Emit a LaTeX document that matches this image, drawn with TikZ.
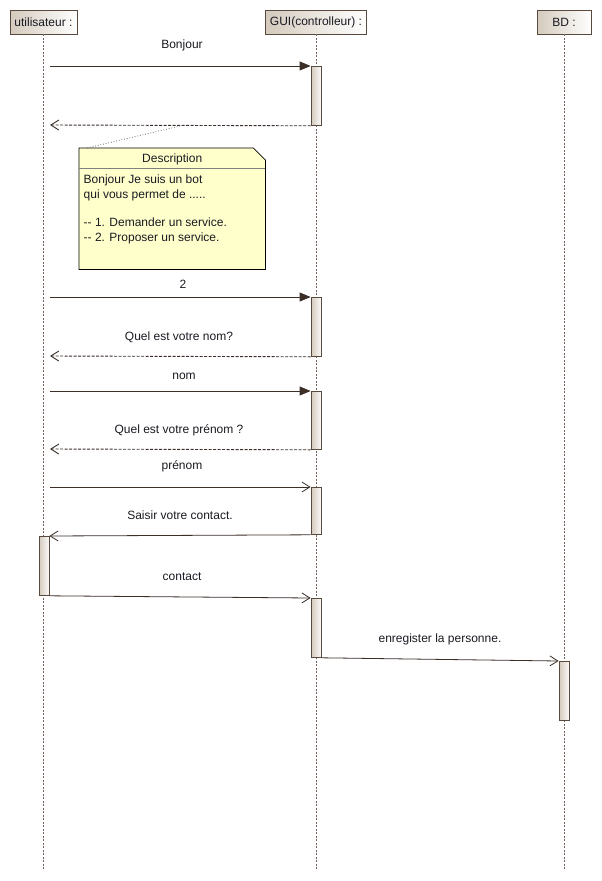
\documentclass[tikz,border=0pt]{standalone}
\usepackage{fontspec}
\setmainfont{Liberation Sans}
\usetikzlibrary{arrows.meta,calc}
\definecolor{brd}{HTML}{5A4A3E}
\definecolor{hdrL}{HTML}{D4CABD}
\definecolor{notefill}{HTML}{FFFFCC}
\definecolor{arr}{HTML}{3B2F28}
\definecolor{txt}{HTML}{1A1A22}
\begin{document}
\begin{tikzpicture}[x=1pt,y=-1pt,
  hdr/.style={draw=brd, line width=0.8pt, left color=hdrL, right color=white, minimum height=24pt, inner sep=0pt, font=\fontsize{12}{14}\selectfont, text=txt},
  act/.style={draw=brd, line width=0.8pt, left color=hdrL, right color=white!90!hdrL, minimum width=10pt, inner sep=0pt, anchor=north},
  life/.style={draw=brd!85, line width=0.6pt, dash pattern=on 2pt off 1.5pt},
  sync/.style={draw=arr, line width=0.8pt, -{Triangle[length=11pt,width=9pt]}},
  async/.style={draw=arr, line width=0.8pt, -{Straight Barb[length=8pt,width=10pt,line width=0.8pt]}},
  ret/.style={draw=arr, line width=0.9pt, dash pattern=on 3pt off 1.5pt, -{Straight Barb[length=8pt,width=10pt,line width=0.9pt]}},
  lbl/.style={font=\fontsize{12}{14}\selectfont, text=txt, inner sep=0pt},
  notebox/.style={minimum width=186pt, minimum height=121pt, inner sep=0pt, anchor=north west},
]
\useasboundingbox[fill=white] (0,0) rectangle (602,881);

% headers
\node[hdr, minimum width=67pt] (U) at (43.5,22) {utilisateur :};
\node[hdr, minimum width=101pt] (G) at (316,22) {GUI(controlleur) :};
\node[hdr, minimum width=54pt] (B) at (564,22) {BD :};
\coordinate (bottom) at (0,870);

% lifelines
\draw[life] (U.south) -- (U.south |- bottom);
\draw[life] (G.south) -- (G.south |- bottom);
\draw[life] (B.south) -- (B.south |- bottom);

% activations
\node[act, minimum height=59pt] (a1) at (316,66) {};
\node[act, minimum height=59pt] (a2) at (316,297) {};
\node[act, minimum height=58pt] (a3) at (316,391) {};
\node[act, minimum height=47pt] (a4) at (316,487) {};
\node[act, minimum height=59pt] (aU) at (44,536) {};
\node[act, minimum height=59pt] (a5) at (316,598) {};
\node[act, minimum height=59pt] (aB) at (564,661) {};

% message 1
\coordinate (u1) at (50,66);
\coordinate (u2) at (50,125);
\draw[sync] (u1) -- (a1.north west);
\node[lbl] (l1) at (182,45) {Bonjour};
\draw[ret] (a1.south west) -- (u2);

% note
\node[notebox] (note) at (79,148) {};
\draw[black, fill=notefill, line width=0.8pt] (note.north west) -- ($(note.north east)+(-12,0)$) -- ($(note.north east)+(0,12)$) -- (note.south east) -- (note.south west) -- cycle;
\draw[gray, line width=0.7pt] ($(note.north west)+(0,20)$) -- ($(note.north east)+(0,20)$);
\node[lbl] (ntitle) at ($(note.north)+(0,11)$) {Description};
\node[lbl, anchor=north west, align=left, font=\fontsize{12}{14.3}\selectfont] (nbody) at (83.5,175) {Bonjour Je suis un bot\\qui vous permet de .....\\\mbox{}\\-{}- 1. Demander un service.\\-{}- 2. Proposer un service.};
\coordinate (nc) at (180,126);
\draw[black!70, line width=0.7pt, dotted] (nc) -- ($(note.north west)+(8,0)$);

% message 2
\coordinate (u3) at (50,297);
\coordinate (u4) at (50,356);
\draw[sync] (u3) -- (a2.north west);
\node[lbl] (l2) at (183,284) {2};
\draw[ret] (a2.south west) -- (u4);
\node[lbl] (l3) at (179,337) {Quel est votre nom?};

% message 3
\coordinate (u5) at (50,391);
\coordinate (u6) at (50,449);
\draw[sync] (u5) -- (a3.north west);
\node[lbl] (l4) at (184,376) {nom};
\draw[ret] (a3.south west) -- (u6);
\node[lbl] (l5) at (179,430) {Quel est votre prénom ?};

% message 4
\coordinate (u7) at (50,487);
\draw[async] (u7) -- (a4.north west);
\node[lbl] (l6) at (182,466) {prénom};
\draw[async] (a4.south west) -- (aU.north east);
\node[lbl] (l7) at (180,515) {Saisir votre contact.};

% message 5
\draw[async] (aU.south east) -- (a5.north west);
\node[lbl] (l8) at (182,577) {contact};

% message 6
\draw[async] (a5.south east) -- (aB.north west);
\node[lbl] (l9) at (440,639) {enregister la personne.};
\end{tikzpicture}
\end{document}
